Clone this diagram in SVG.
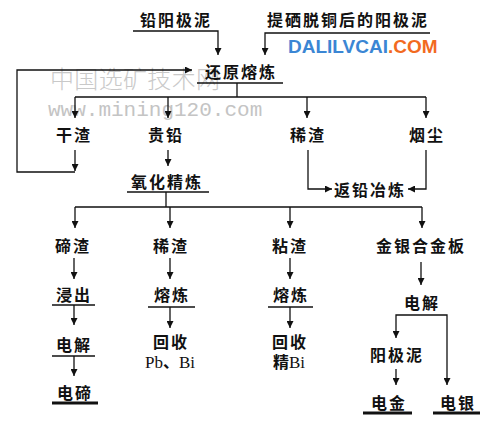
<svg xmlns="http://www.w3.org/2000/svg" width="500" height="431" viewBox="0 0 500 431">
<defs>
<style>
.t{font-family:"Noto Sans CJK SC","Noto Sans",sans-serif;font-size:16px;font-weight:bold;fill:#111;text-anchor:middle;letter-spacing:2px}
.n{letter-spacing:0}
.s{font-family:"Liberation Serif","Noto Sans CJK SC",serif;font-weight:normal;font-size:17px}
.c{fill:none;stroke:#111;stroke-width:1.3}
.a{marker-end:url(#ah)}
.u{fill:none;stroke:#111;stroke-width:1.3}
.ut{fill:none;stroke:#111;stroke-width:3}
.wm{font-family:"Noto Sans CJK SC",sans-serif;font-size:24px;font-weight:300;fill:#c9c9c9}
.wm2{font-family:"Liberation Mono",monospace;font-size:21px;fill:#c4c4c4}
</style>
<marker id="ah" viewBox="0 0 10 10" refX="10" refY="5" markerWidth="8" markerHeight="7" markerUnits="userSpaceOnUse" orient="auto">
<path d="M0,0 L10,5 L0,10 z" fill="#111"/>
</marker>
</defs>
<rect width="500" height="431" fill="#fff"/>

<g id="watermark">
<text class="wm" x="50" y="88" textLength="170">中国选矿技术网</text>
<text class="wm2" x="48" y="116">www.mining120.com</text>
</g>

<g id="logo">
<text x="288" y="53" font-family="Liberation Sans,Arial,sans-serif" font-size="19" font-weight="bold"><tspan fill="#3b86d4">DALILVCAI</tspan><tspan fill="#f26a1f">.COM</tspan></text>
</g>

<g id="connectors">
<path class="c a" d="M133 31 H218 V55"/>
<path class="c a" d="M430 33 H265 V55"/>
<path class="c a" d="M75 150 V171"/>
<path class="c a" d="M75 172 H17 V70 H192"/>
<path class="c" d="M237 83 V97 M75 97 H426"/>
<path class="c a" d="M75 97 V118"/>
<path class="c a" d="M168 97 V118"/>
<path class="c a" d="M307 97 V118"/>
<path class="c a" d="M426 97 V118"/>
<path class="c a" d="M168 150 V166"/>
<path class="c" d="M166 192 V207 M75 207 H422"/>
<path class="c a" d="M75 207 V228"/>
<path class="c a" d="M170 207 V228"/>
<path class="c a" d="M290 207 V228"/>
<path class="c a" d="M422 207 V228"/>
<path class="c a" d="M308 150 V189 H332"/>
<path class="c a" d="M426 150 V189 H408"/>
<path class="c a" d="M74 258 V279"/>
<path class="c a" d="M74 305 V325"/>
<path class="c a" d="M74 356 V376"/>
<path class="c a" d="M170 258 V279"/>
<path class="c a" d="M170 307 V328"/>
<path class="c a" d="M290 258 V279"/>
<path class="c a" d="M290 307 V328"/>
<path class="c a" d="M421 262 V285"/>
<path class="c a" d="M421 315 H396 V338"/>
<path class="c a" d="M421 315 H447 V385"/>
<path class="c a" d="M396 369 V385"/>
</g>

<g id="n1"><text class="t" x="176" y="26">铅阳极泥</text></g>
<g id="n2"><text class="t" x="348" y="26">提硒脱铜后的阳极泥</text></g>
<g id="n3"><text class="t" x="241" y="78">还原熔炼</text><path class="u" d="M197 83 H283"/></g>
<g id="n4"><text class="t" x="74" y="141">干渣</text></g>
<g id="n5"><text class="t" x="166" y="141">贵铅</text></g>
<g id="n6"><text class="t" x="308" y="141">稀渣</text></g>
<g id="n7"><text class="t" x="427" y="141">烟尘</text></g>
<g id="n8"><text class="t" x="167" y="188">氧化精炼</text><path class="u" d="M127 192 H209"/></g>
<g id="n9"><text class="t" x="370" y="196">返铅冶炼</text></g>
<g id="n10"><text class="t" x="73" y="252">碲渣</text></g>
<g id="n11"><text class="t" x="171" y="252">稀渣</text></g>
<g id="n12"><text class="t" x="290" y="252">粘渣</text></g>
<g id="n13"><text class="t" x="421" y="252">金银合金板</text></g>
<g id="n14"><text class="t" x="74" y="301">浸出</text><path class="u" d="M52 305 H95"/></g>
<g id="n15"><text class="t" x="172" y="301">熔炼</text><path class="u" d="M148 307 H195"/></g>
<g id="n16"><text class="t" x="291" y="301">熔炼</text><path class="u" d="M268 307 H313"/></g>
<g id="n17"><text class="t" x="422" y="309">电解</text></g>
<g id="n18"><text class="t" x="74" y="351">电解</text><path class="u" d="M52 356 H95"/></g>
<g id="n19"><text class="t" x="171" y="348">回收</text><text class="t n" x="170" y="368"><tspan class="s">Pb</tspan>、<tspan class="s">Bi</tspan></text></g>
<g id="n20"><text class="t" x="290" y="348">回收</text><text class="t n" x="289" y="368">精<tspan class="s">Bi</tspan></text></g>
<g id="n21"><text class="t" x="397" y="361">阳极泥</text></g>
<g id="n22"><text class="t" x="75" y="399">电碲</text><path class="ut" d="M52 403 H98"/></g>
<g id="n23"><text class="t" x="389" y="409">电金</text><path class="ut" d="M363 413 H412"/></g>
<g id="n24"><text class="t" x="458" y="409">电银</text><path class="ut" d="M433 413 H480"/></g>
</svg>
